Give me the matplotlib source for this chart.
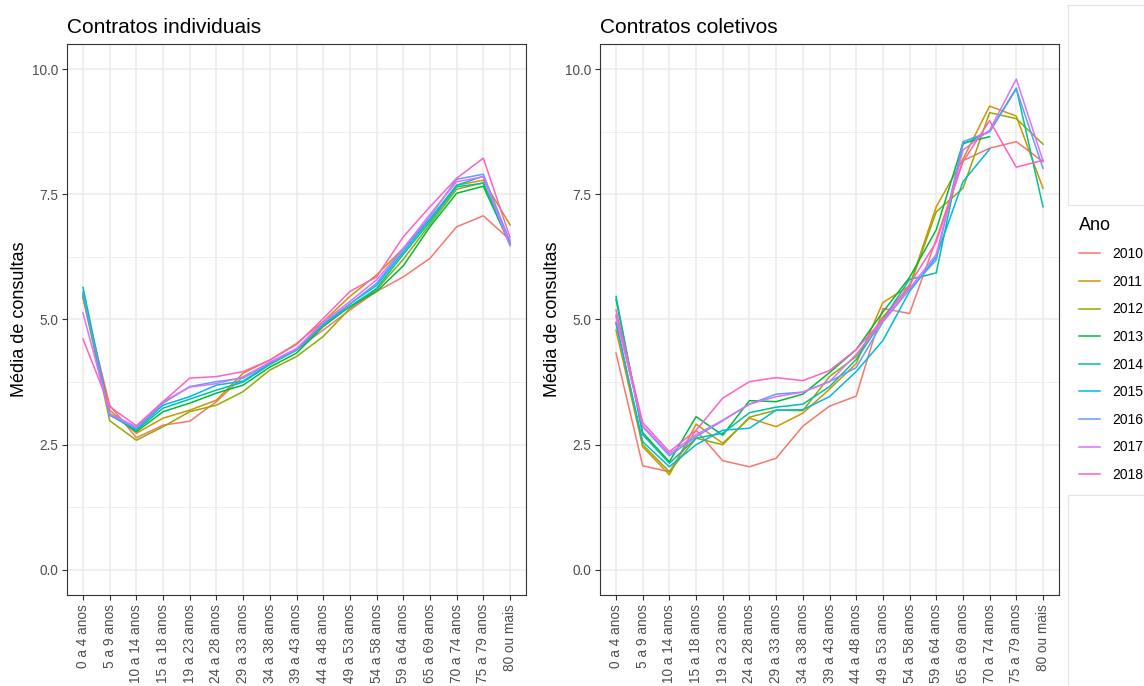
import matplotlib
matplotlib.use("Agg")
import matplotlib.pyplot as plt
import numpy as np
from matplotlib.patches import Rectangle

plt.rcParams['font.family'] = ['Liberation Sans', 'DejaVu Sans']

faixas = ["0 a 4 anos", "5 a 9 anos", "10 a 14 anos", "15 a 18 anos", "19 a 23 anos",
          "24 a 28 anos", "29 a 33 anos", "34 a 38 anos", "39 a 43 anos", "44 a 48 anos",
          "49 a 53 anos", "54 a 58 anos", "59 a 64 anos", "65 a 69 anos", "70 a 74 anos",
          "75 a 79 anos", "80 ou mais"]
anos = [2010, 2011, 2012, 2013, 2014, 2015, 2016, 2017, 2018]
cores = ["#F8766D", "#D39200", "#93AA00", "#00BA38", "#00C19F",
         "#00B9E3", "#619CFF", "#DB72FB", "#FF61C3"]

# contratos individuais
ind_2010 = [5.45, 3.29, 2.64, 2.89, 2.97, 3.36, 3.86, 4.12, 4.40, 4.79, 5.19, 5.56, 5.85, 6.22, 6.85, 7.07, 6.59]
ind_2011 = [5.43, 3.19, 2.73, 3.03, 3.19, 3.39, 3.93, 4.19, 4.52, 4.96, 5.46, 5.89, 6.42, 7.00, 7.68, 7.78, 6.89]
ind_2012 = [5.45, 2.98, 2.59, 2.86, 3.16, 3.29, 3.56, 3.99, 4.26, 4.66, 5.22, 5.60, 6.20, 6.90, 7.60, 7.73, 6.55]
ind_2013 = [5.50, 3.12, 2.76, 3.16, 3.33, 3.53, 3.69, 4.05, 4.33, 4.86, 5.26, 5.56, 6.07, 6.85, 7.52, 7.66, 6.50]
ind_2014 = [5.64, 3.10, 2.79, 3.23, 3.41, 3.59, 3.75, 4.10, 4.39, 4.90, 5.26, 5.62, 6.30, 6.95, 7.65, 7.72, 6.50]
ind_2015 = [5.55, 3.09, 2.81, 3.29, 3.46, 3.69, 3.77, 4.12, 4.39, 4.90, 5.31, 5.68, 6.35, 7.00, 7.68, 7.86, 6.52]
ind_2016 = [5.50, 3.09, 2.83, 3.33, 3.66, 3.76, 3.83, 4.13, 4.40, 4.92, 5.31, 5.72, 6.40, 7.05, 7.80, 7.90, 6.55]
ind_2017 = [5.13, 3.12, 2.86, 3.36, 3.65, 3.72, 3.85, 4.15, 4.42, 4.95, 5.36, 5.79, 6.42, 7.10, 7.75, 7.85, 6.47]
ind_2018 = [4.61, 3.26, 2.88, 3.36, 3.83, 3.86, 3.96, 4.19, 4.50, 5.02, 5.56, 5.85, 6.65, 7.25, 7.82, 8.22, 6.64]

# contratos coletivos
col_2010 = [4.33, 2.08, 1.96, 2.79, 2.18, 2.06, 2.23, 2.87, 3.27, 3.47, 5.22, 5.12, 6.60, 8.17, 8.42, 8.55, 8.15]
col_2011 = [4.79, 2.46, 1.90, 2.91, 2.53, 3.03, 2.86, 3.13, 3.61, 4.12, 5.34, 5.67, 7.25, 8.20, 9.26, 9.06, 7.62]
col_2012 = [4.95, 2.50, 1.96, 2.63, 2.50, 3.05, 3.19, 3.18, 3.86, 4.26, 5.05, 5.65, 7.15, 7.62, 9.13, 9.01, 8.50]
col_2013 = [5.40, 2.74, 2.16, 3.06, 2.69, 3.38, 3.36, 3.51, 3.94, 4.40, 5.15, 5.84, 6.79, 8.52, 8.65, np.nan, np.nan]
col_2014 = [5.46, 2.70, 2.13, 2.63, 2.73, 3.14, 3.25, 3.31, 3.66, 4.20, 5.00, 5.80, 5.93, 8.50, 8.75, 9.62, 7.25]
col_2015 = [4.92, 2.56, 2.06, 2.50, 2.79, 2.83, 3.19, 3.20, 3.46, 3.96, 4.58, 5.56, 6.25, 7.75, 8.40, np.nan, np.nan]
col_2016 = [5.09, 2.86, 2.28, 2.66, 2.98, 3.31, 3.51, 3.55, 3.76, 4.04, 4.95, 5.60, 6.19, 8.55, 8.75, 9.60, 8.02]
col_2017 = [5.05, 2.88, 2.32, 2.70, 2.99, 3.31, 3.46, 3.55, 3.76, 4.30, 4.98, 5.62, 6.30, 8.38, 8.78, 9.80, 8.17]
col_2018 = [5.19, 2.94, 2.36, 2.79, 3.43, 3.76, 3.84, 3.78, 3.98, 4.40, 5.00, 5.70, 6.55, 8.15, 8.97, 8.04, 8.18]

individuais = [ind_2010, ind_2011, ind_2012, ind_2013, ind_2014, ind_2015, ind_2016, ind_2017, ind_2018]
coletivos = [col_2010, col_2011, col_2012, col_2013, col_2014, col_2015, col_2016, col_2017, col_2018]

W, H = 1144, 686
fig = plt.figure(figsize=(W / 100, H / 100), dpi=100)


def px_axes(x0, y0, x1, y1):
    return fig.add_axes([x0 / W, 1 - y1 / H, (x1 - x0) / W, (y1 - y0) / H])


def estilo(ax, titulo):
    ax.set_facecolor("white")
    ax.set_xlim(-0.6, len(faixas) - 1 + 0.6)
    ax.set_ylim(-0.5, 10.5)
    ax.set_xticks(np.arange(len(faixas)))
    ax.set_xticklabels(faixas, rotation=90, fontsize=9.8, color="#4D4D4D")
    ax.set_yticks([0, 2.5, 5, 7.5, 10])
    ax.set_yticklabels(["0.0", "2.5", "5.0", "7.5", "10.0"], fontsize=9.8, color="#4D4D4D")
    ax.set_yticks([1.25, 3.75, 6.25, 8.75], minor=True)
    ax.tick_params(axis="both", which="major", length=3.5, width=0.8, color="#333333", pad=3)
    ax.tick_params(axis="y", which="minor", length=0)
    ax.grid(True, which="major", color="#EBEBEB", linewidth=1.1, zorder=0)
    ax.grid(True, which="minor", axis="y", color="#EBEBEB", linewidth=0.55, zorder=0)
    ax.set_axisbelow(True)
    for s in ax.spines.values():
        s.set_color("#333333")
        s.set_linewidth(0.8)
    ax.set_ylabel("Média de consultas", fontsize=13, labelpad=3)
    ax.set_title(titulo, loc="left", fontsize=15, pad=8)


ax1 = px_axes(67, 44, 526, 595)
ax2 = px_axes(600, 44, 1059, 595)

x = np.arange(len(faixas))
for ano, cor, serie in zip(anos, cores, individuais):
    ax1.plot(x, serie, color=cor, lw=1.1, label=str(ano))
for ano, cor, serie in zip(anos, cores, coletivos):
    ax2.plot(x, serie, color=cor, lw=1.1)

estilo(ax1, "Contratos individuais")
estilo(ax2, "Contratos coletivos")

# caixas claras ao lado da legenda
fig.patches.append(Rectangle((1068 / W, 1 - 205 / H), 0.2, 200 / H, transform=fig.transFigure,
                             facecolor="white", edgecolor="#E3E3E3", lw=0.8))
fig.patches.append(Rectangle((1068 / W, 1 - 700 / H), 0.2, 205 / H, transform=fig.transFigure,
                             facecolor="white", edgecolor="#E3E3E3", lw=0.8))

handles, labels = ax1.get_legend_handles_labels()
leg = fig.legend(handles, labels, title="Ano", loc="upper left",
                 bbox_to_anchor=(1073 / W, 1 - 211 / H), frameon=False,
                 fontsize=10, title_fontsize=13, handlelength=1.55,
                 handletextpad=0.85, labelspacing=0.98, borderaxespad=0)
leg._legend_box.align = "left"

fig.savefig("out.png", dpi=100, facecolor="white")
